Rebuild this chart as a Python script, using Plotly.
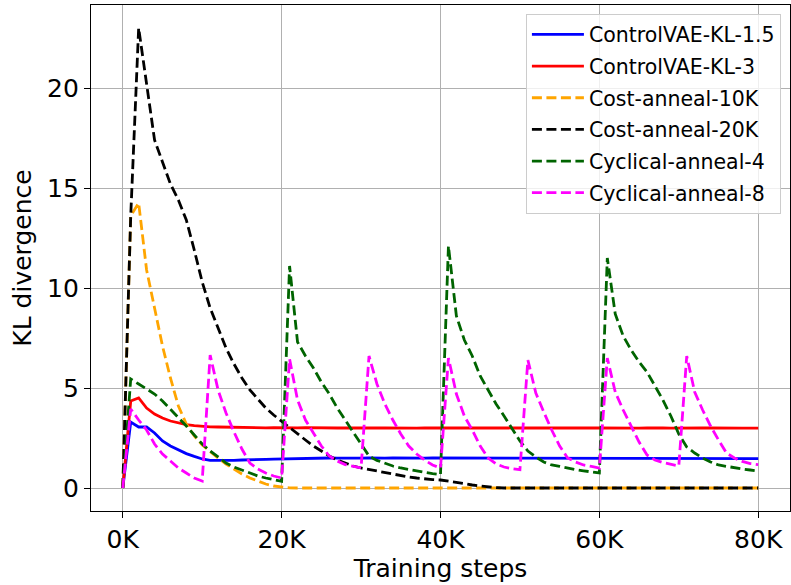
import plotly.graph_objects as go

# Training steps, in thousands
steps_k = list(range(0, 81))

kl_controlvae_15 = [
    0.0, 3.3, 3.05, 3.05, 2.75, 2.35, 2.1, 1.9, 1.72, 1.58,
    1.45, 1.38, 1.37, 1.37, 1.38, 1.4, 1.4, 1.42, 1.43, 1.44,
    1.45, 1.47, 1.48, 1.47, 1.49, 1.48, 1.5, 1.49, 1.48, 1.5,
    1.49, 1.5, 1.48, 1.49, 1.5, 1.49, 1.51, 1.5, 1.49, 1.5,
    1.5, 1.49, 1.5, 1.48, 1.49, 1.5, 1.49, 1.48, 1.49, 1.5,
    1.49, 1.48, 1.49, 1.5, 1.49, 1.48, 1.49, 1.5, 1.49, 1.48,
    1.49, 1.5, 1.49, 1.48, 1.49, 1.5, 1.49, 1.48, 1.49, 1.48,
    1.49, 1.5, 1.49, 1.48, 1.49, 1.48, 1.47, 1.48, 1.47, 1.48,
    1.47,
]

kl_controlvae_3 = [
    0.0, 4.35, 4.5, 4.0, 3.7, 3.5, 3.35, 3.25, 3.17, 3.12,
    3.08, 3.06, 3.05, 3.04, 3.03, 3.03, 3.02, 3.02, 3.01, 3.02,
    3.01, 3.0, 3.01, 3.02, 3.01, 3.0, 3.01, 3.0, 3.01, 3.0,
    3.01, 3.0, 3.0, 3.01, 3.0, 3.01, 3.0, 2.99, 3.0, 3.01,
    3.0, 3.01, 3.0, 2.99, 3.0, 3.01, 3.0, 3.0, 2.99, 3.0,
    3.01, 3.0, 3.0, 2.99, 3.0, 3.01, 3.0, 2.99, 3.0, 3.0,
    3.01, 3.0, 2.99, 3.0, 3.0, 2.99, 3.0, 3.01, 3.0, 2.99,
    3.0, 3.0, 2.99, 3.0, 3.0, 2.99, 3.0, 3.0, 2.99, 2.99,
    2.99,
]

kl_cost_anneal_10k = [
    0.0, 13.6, 14.25, 10.9, 9.0, 7.1, 5.5, 4.1, 3.2, 2.6,
    2.15, 1.8, 1.5, 1.2, 0.95, 0.7, 0.5, 0.35, 0.2, 0.1,
    0.04, 0.01, 0.0, 0.0, 0.01, 0.0, 0.0, 0.0, 0.01, 0.0,
    0.0, 0.0, 0.0, 0.01, 0.0, 0.0, 0.03, 0.02, 0.0, 0.0,
    0.0, 0.0, 0.0, 0.0, 0.0, 0.0, 0.0, 0.0, 0.0, 0.0,
    0.0, 0.0, 0.0, 0.0, 0.0, 0.0, 0.0, 0.0, 0.0, 0.0,
    0.0, 0.0, 0.0, 0.0, 0.0, 0.0, 0.0, 0.0, 0.0, 0.0,
    0.0, 0.0, 0.0, 0.0, 0.0, 0.0, 0.0, 0.0, 0.0, 0.0,
    0.0,
]

kl_cost_anneal_20k = [
    0.0, 13.6, 23.0, 20.1, 17.4, 16.3, 15.2, 14.4, 13.4, 11.9,
    10.3, 9.0, 8.0, 7.0, 6.2, 5.5, 4.9, 4.45, 4.0, 3.65,
    3.33, 3.0, 2.7, 2.4, 2.1, 1.85, 1.6, 1.4, 1.25, 1.1,
    1.0, 0.92, 0.85, 0.78, 0.7, 0.62, 0.55, 0.5, 0.45, 0.42,
    0.4, 0.35, 0.3, 0.22, 0.15, 0.1, 0.05, 0.02, 0.0, 0.0,
    0.0, 0.0, 0.0, 0.0, 0.0, 0.0, 0.0, 0.0, 0.0, 0.0,
    0.0, 0.0, 0.0, 0.0, 0.0, 0.0, 0.0, 0.0, 0.0, 0.0,
    0.0, 0.0, 0.0, 0.0, 0.0, 0.0, 0.0, 0.0, 0.0, 0.0,
    0.0,
]

kl_cyclical_4 = [
    0.0, 5.45, 5.2, 4.95, 4.7, 4.35, 3.95, 3.55, 3.1, 2.65,
    2.2, 1.85, 1.55, 1.25, 1.05, 0.9, 0.75, 0.6, 0.5, 0.4,
    0.33, 11.1, 7.3, 6.6, 6.0, 5.3, 4.7, 4.0, 3.4, 2.75,
    2.15, 1.6, 1.38, 1.22, 1.1, 1.0, 0.92, 0.85, 0.78, 0.72,
    0.67, 12.1, 8.6, 7.4, 6.6, 5.6, 4.9, 4.2, 3.6, 3.0,
    2.35, 1.85, 1.55, 1.3, 1.15, 1.08, 0.99, 0.92, 0.86, 0.8,
    0.75, 11.5, 8.7, 7.6, 6.9, 6.3, 5.8, 5.1, 4.4, 3.6,
    2.7, 2.05, 1.75, 1.5, 1.3, 1.15, 1.08, 1.0, 0.95, 0.9,
    0.85,
]

kl_cyclical_8 = [
    0.0, 3.95, 3.4, 2.9, 2.2, 1.7, 1.35, 1.0, 0.75, 0.5,
    0.35, 6.65, 4.9, 3.75, 2.8, 1.95, 1.25, 0.95, 0.75, 0.6,
    0.5, 6.45, 4.4, 3.4, 2.75, 2.1, 1.6, 1.35, 1.17, 1.08,
    1.0, 6.6, 5.2, 4.2, 3.4, 2.7, 2.1, 1.7, 1.4, 1.15,
    1.0, 6.5, 4.7, 3.6, 2.9, 2.1, 1.5, 1.2, 1.05, 0.97,
    0.92, 6.4, 4.75, 3.8, 2.9, 2.1, 1.5, 1.3, 1.15, 1.08,
    1.0, 6.5, 4.8, 3.9, 3.1, 2.3, 1.65, 1.4, 1.27, 1.18,
    1.1, 6.6, 4.8, 3.9, 3.1, 2.4, 1.75, 1.5, 1.33, 1.22,
    1.17,
]

x_tick_values = [0, 20, 40, 60, 80]
x_tick_labels = ["0K", "20K", "40K", "60K", "80K"]
y_tick_values = [0, 5, 10, 15, 20]

series = [
    ("ControlVAE-KL-1.5", kl_controlvae_15, "#0000ff", "solid"),
    ("ControlVAE-KL-3", kl_controlvae_3, "#ff0000", "solid"),
    ("Cost-anneal-10K", kl_cost_anneal_10k, "#ffa500", "10px,4.5px"),
    ("Cost-anneal-20K", kl_cost_anneal_20k, "#000000", "10px,4.5px"),
    ("Cyclical-anneal-4", kl_cyclical_4, "#006400", "10px,4.5px"),
    ("Cyclical-anneal-8", kl_cyclical_8, "#ff00ff", "10px,4.5px"),
]

fig = go.Figure()
for name, values, color, dash in series:
    fig.add_trace(go.Scatter(
        x=steps_k, y=values, mode="lines", name=name,
        legendgroup=name,
        line=dict(color=color, width=2.8, dash=dash),
    ))

font_family = "DejaVu Sans"
axis_common = dict(
    showline=True, mirror=True, linecolor="black", linewidth=1.3,
    ticks="outside", ticklen=6, tickwidth=1.3, tickcolor="black",
    showgrid=True, gridcolor="#b0b0b0", gridwidth=1.2,
    zeroline=False,
    tickfont=dict(family=font_family, size=25, color="black"),
)

fig.update_xaxes(
    range=[-4, 84], tickvals=x_tick_values, ticktext=x_tick_labels,
    title=dict(text="Training steps", font=dict(family=font_family, size=25, color="black"), standoff=6),
    **axis_common,
)
fig.update_yaxes(
    range=[-1.15, 24.15], tickvals=y_tick_values,
    title=dict(text="KL divergence", font=dict(family=font_family, size=25, color="black"), standoff=8),
    **axis_common,
)

fig.update_layout(
    width=791, height=585,
    margin=dict(l=91, r=1, t=5, b=74),
    paper_bgcolor="white", plot_bgcolor="white",
    font=dict(family=font_family, color="black"),
    legend=dict(
        x=0.987, y=0.983, xanchor="right", yanchor="top",
        bgcolor="rgba(255,255,255,0.8)", bordercolor="#cccccc", borderwidth=1,
        font=dict(family=font_family, size=20.5, color="black"),
        tracegroupgap=2, itemwidth=52,
    ),
    showlegend=True,
)

fig.write_html("out.html")
